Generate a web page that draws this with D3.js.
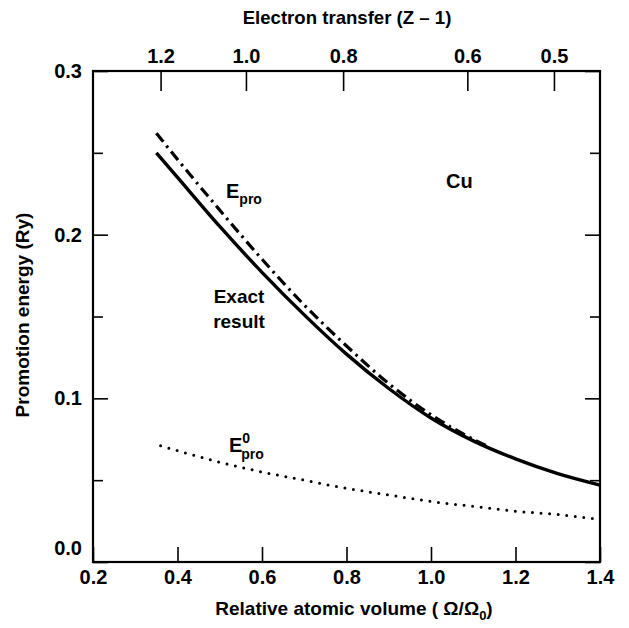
<!DOCTYPE html>
<html><head><meta charset="utf-8">
<script src="https://cdn.jsdelivr.net/npm/d3@7"></script>
<style>
html,body{margin:0;padding:0;background:#fff;}
svg text{font-family:"Liberation Sans",Arial,Helvetica,sans-serif;font-weight:bold;fill:#000;}
</style></head>
<body>
<svg id="chart" width="629" height="628"></svg>
<script>
// Data (x = relative atomic volume Ω/Ω0, y = promotion energy in Ry)
const exactX = [0.35,0.4,0.5,0.6,0.7,0.8,0.9,1.0,1.1,1.2,1.3,1.4];
const exactY = [0.250,0.235,0.205,0.177,0.151,0.127,0.106,0.088,0.074,0.063,0.054,0.047];
const eproX = [0.35,0.4,0.5,0.6,0.7,0.8,0.9,1.0,1.1,1.14];
const eproY = [0.262,0.246,0.215,0.185,0.157,0.132,0.109,0.090,0.075,0.070];
const epro0X = [0.36,0.4,0.5,0.6,0.7,0.8,0.9,1.0,1.1,1.2,1.3,1.4];
const epro0Y = [0.071,0.068,0.061,0.055,0.050,0.045,0.041,0.037,0.034,0.031,0.029,0.026];
const xTicks = [0.2,0.4,0.6,0.8,1.0,1.2,1.4];
const yTicks = [0.0,0.1,0.2,0.3];
const yMinorTicks = [0.05,0.15,0.25];
const topTickLabels = ["1.2","1.0","0.8","0.6","0.5"];
const topTickVolume = [0.36,0.562,0.792,1.086,1.291];

const svg = d3.select("#chart");
const L = 93, R = 600, T = 71, B = 562;
const x = d3.scaleLinear().domain([0.2,1.4]).range([L,R]);
const y = d3.scaleLinear().domain([0,0.3]).range([B,T]);

// frame
svg.append("rect").attr("x",L).attr("y",T).attr("width",R-L).attr("height",B-T)
  .attr("fill","none").attr("stroke","#000").attr("stroke-width",2.2);

const fmt = d3.format(".1f");
// bottom axis
const gB = svg.append("g").attr("transform",`translate(0,${B})`)
  .call(d3.axisBottom(x).tickValues(xTicks).tickSizeInner(-15).tickSizeOuter(0).tickPadding(8).tickFormat(fmt));
// left axis
const gL = svg.append("g").attr("transform",`translate(${L},0)`)
  .call(d3.axisLeft(y).tickValues(yTicks).tickSizeInner(-15).tickSizeOuter(0).tickPadding(11).tickFormat(fmt));
const gLm = svg.append("g").attr("transform",`translate(${L},0)`)
  .call(d3.axisLeft(y).tickValues(yMinorTicks).tickSizeInner(-10).tickSizeOuter(0).tickFormat(""));
// right axis ticks
const gR = svg.append("g").attr("transform",`translate(${R},0)`)
  .call(d3.axisRight(y).tickValues(yTicks).tickSizeInner(-15).tickSizeOuter(0).tickFormat(""));
const gRm = svg.append("g").attr("transform",`translate(${R},0)`)
  .call(d3.axisRight(y).tickValues(yMinorTicks).tickSizeInner(-10).tickSizeOuter(0).tickFormat(""));
// top axis (electron transfer)
const gT = svg.append("g").attr("transform",`translate(0,${T})`)
  .call(d3.axisTop(x).tickValues(topTickVolume).tickSizeInner(-20).tickSizeOuter(0).tickPadding(8)
    .tickFormat((d,i)=>topTickLabels[i]));

[gB,gL,gLm,gR,gRm,gT].forEach(g=>{
  g.select(".domain").remove();
  g.selectAll("line").attr("stroke","#000").attr("stroke-width",1.6);
  g.selectAll("text").attr("font-size",20).attr("font-family","Liberation Sans, Arial, sans-serif").attr("font-weight","bold").attr("fill","#000");
});
gL.selectAll(".tick").filter(d=>d===0).select("text").attr("dy","-0.4em");

// curves
const line = d3.line().curve(d3.curveMonotoneX);
function pts(xs,ys){return xs.map((v,i)=>[x(v),y(ys[i])]);}
svg.append("path").attr("d",line(pts(epro0X,epro0Y))).attr("fill","none").attr("stroke","#000")
  .attr("stroke-width",3).attr("stroke-linecap","round").attr("stroke-dasharray","0 8.6");
svg.append("path").attr("d",line(pts(eproX,eproY))).attr("fill","none").attr("stroke","#000")
  .attr("stroke-width",3.2).attr("stroke-dasharray","11 5 2.5 5");
svg.append("path").attr("d",line(pts(exactX,exactY))).attr("fill","none").attr("stroke","#000")
  .attr("stroke-width",3.4);

// titles
svg.append("text").attr("x",347).attr("y",24).attr("text-anchor","middle").attr("font-size",18.6)
  .text("Electron transfer (Z \u2013 1)");
svg.append("text").attr("transform","translate(29,315) rotate(-90)").attr("text-anchor","middle").attr("font-size",19)
  .text("Promotion energy (Ry)");
const xt = svg.append("text").attr("x",354).attr("y",615).attr("text-anchor","middle").attr("font-size",19);
xt.append("tspan").text("Relative atomic volume ( \u03A9/\u03A9");
xt.append("tspan").attr("font-size",13).attr("dy",5).text("0");
xt.append("tspan").attr("dy",-5).text(")");

// annotations
svg.append("text").attr("x",446).attr("y",188).attr("font-size",20).text("Cu");
const e1 = svg.append("text").attr("x",226).attr("y",198).attr("font-size",20);
e1.append("tspan").text("E");
e1.append("tspan").attr("font-size",14).attr("dy",6).text("pro");
svg.append("text").attr("x",239).attr("y",303).attr("text-anchor","middle").attr("font-size",19).text("Exact");
svg.append("text").attr("x",239).attr("y",328).attr("text-anchor","middle").attr("font-size",19).text("result");
const e0 = svg.append("text").attr("x",229).attr("y",452).attr("font-size",20);
e0.append("tspan").text("E");
e0.append("tspan").attr("font-size",14).attr("dy",-9).text("0");
e0.append("tspan").attr("font-size",14).attr("dx",-9).attr("dy",16).text("pro");
</script>
</body></html>
